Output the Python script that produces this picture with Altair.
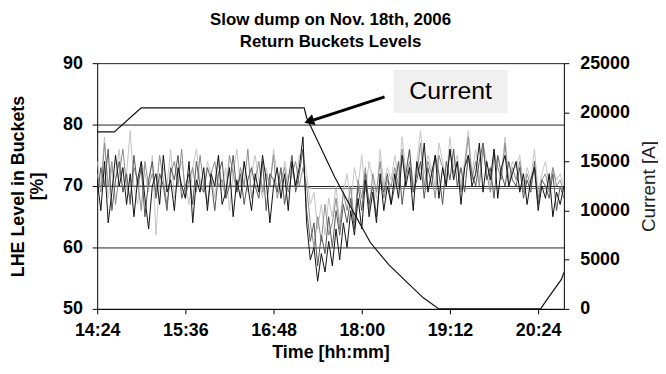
import altair as alt
import pandas as pd

# minutes after 14:24, sampled every 3 min
step_min = 3

lhe_black = [71, 66, 74, 64, 69, 75, 70, 73, 67, 72, 65, 71, 74, 68, 63, 70, 72, 67, 75, 69, 71, 66, 73, 70, 68, 74, 64, 71, 69, 73, 66, 72, 70, 75, 67, 69, 73, 65, 71, 68, 74, 70, 66, 72, 69, 75, 71, 64, 70, 73, 68, 72, 66, 74, 70, 73,
             78, 64, 58,
             60, 54.5, 59, 56, 61, 57, 63, 58, 64,
             60, 66, 62, 68, 63, 71, 65, 69, 64, 72, 66, 70, 67,
             72, 68, 75, 70, 73, 66, 74, 71, 77, 69, 72, 75, 68, 73, 70, 76, 71, 74, 67, 73, 75, 70, 72, 77, 69, 74, 71, 76, 68, 73, 75, 70, 72,
             74, 69, 72, 67, 71, 73, 66, 70, 68, 72, 65, 69, 67, 70]
lhe_dark = [68, 73, 70, 76, 66, 71, 74, 69, 72, 67, 75, 70, 73, 65, 71, 74, 68, 72, 70, 66, 73, 71, 75, 68, 70, 72, 67, 74, 70, 69, 73, 71, 66, 72, 74, 68, 70, 75, 69, 72, 67, 71, 73, 70, 68, 74, 66, 72, 71, 69, 73, 67, 71, 75, 69, 72,
            76, 66, 61,
            64, 57, 62, 59, 65, 60, 66, 62, 67,
            64, 68, 63, 70, 66, 72, 67, 70, 65, 71, 69, 72, 67,
            70, 74, 67, 72, 76, 69, 71, 74, 68, 73, 70, 75, 72, 67, 74, 71, 76, 70, 73, 69, 75, 72, 70, 74, 77, 71, 73, 68, 75, 72, 70, 74, 71,
            70, 73, 68, 71, 69, 74, 67, 71, 70, 68, 72, 66, 70, 68]
lhe_mid = [72, 69, 77, 70, 74, 67, 72, 76, 70, 68, 73, 71, 66, 74, 70, 72, 69, 75, 71, 67, 72, 74, 70, 76, 68, 71, 73, 69, 75, 70, 67, 72, 74, 70, 71, 68, 75, 72, 69, 73, 70, 76, 68, 71, 74, 69, 72, 70, 75, 68, 71, 73, 69, 72, 74, 70,
           73, 70, 64,
           60, 65, 61, 67, 62, 64, 68, 63, 69,
           66, 70, 64, 71, 68, 73, 66, 72, 69, 74, 68, 71, 70,
           73, 70, 76, 71, 74, 69, 72, 77, 70, 74, 72, 68, 75, 73, 70, 76, 72, 74, 69, 73, 78, 71, 74, 70, 76, 72, 69, 75, 73, 71, 77, 70, 73,
           71, 74, 69, 72, 70, 73, 68, 71, 72, 69, 73, 70, 71, 69]
lhe_light = [74, 70, 78, 68, 73, 71, 76, 69, 72, 79, 70, 67, 74, 72, 69, 75, 62, 71, 73, 70, 76, 68, 72, 74, 70, 67, 73, 76, 71, 69, 74, 72, 68, 75, 70, 73, 66, 72, 76, 70, 74, 69, 72, 75, 71, 68, 73, 70, 76, 72, 69, 74, 71, 73, 70, 75,
             75, 72, 67,
             69, 63, 67, 62, 68, 65, 70, 64, 69,
             72, 67, 73, 70, 75, 69, 74, 71, 68, 76, 70, 73, 71,
             75, 71, 78, 72, 76, 70, 74, 79, 72, 75, 73, 70, 77, 74, 71, 78, 73, 75, 70, 74, 79, 72, 76, 71, 77, 74, 70, 76, 73, 72, 78, 71, 74,
             73, 75, 70, 73, 71, 76, 69, 72, 74, 70, 73, 71, 72, 70]

ref_t = [0, 169, 175, 381]
ref_v = [70.0, 70.0, 69.6, 69.6]

cur_t = [0, 14, 31, 36, 169, 171, 194, 209, 223, 238, 253, 266, 279, 352, 362, 368, 379, 381]
cur_a = [18000, 18000, 19900, 20450, 20450, 19450, 13400, 9900, 6750, 4500, 2700, 1150, 0, 0, 0, 1100, 3000, 3700]

tick_minutes = [0, 72, 144, 216, 288, 360]
left_ticks = [50, 60, 70, 80, 90]
right_ticks = [0, 5000, 10000, 15000, 20000, 25000]

FONT = "Liberation Sans"
xscale = alt.Scale(domain=[0, 381], nice=False, zero=False)
yscale = alt.Scale(domain=[50, 90], nice=False, zero=False)

label_expr = ("floor((864+datum.value)/60) + ':' + "
              "(((864+datum.value)%60)<10?'0':'') + ((864+datum.value)%60)")

xaxis = alt.Axis(values=tick_minutes, labelExpr=label_expr, title="Time [hh:mm]",
                 grid=False, labelFontSize=18, labelFontWeight="bold", titleFontSize=18,
                 titleFontWeight="bold", tickSize=5, labelPadding=8, titlePadding=4,
                 domainColor="black", tickColor="black", labelColor="black", titleColor="black",
                 labelFlush=False)
yaxis_left = alt.Axis(values=left_ticks, title=["LHE Level in Buckets", "[%]"], grid=True,
                      gridColor="#222222", gridWidth=1, labelFontSize=18, labelFontWeight="bold",
                      titleFontSize=18, titleFontWeight="bold", tickSize=5, labelPadding=10,
                      titleAngle=270, titleX=-88, titleY=124, titleAlign="center",
                      titleBaseline="top", titleLineHeight=19,
                      domainColor="black", tickColor="black", labelColor="black", titleColor="black")
yaxis_right = alt.Axis(values=right_ticks, format="d", title="Current [A]", grid=False, orient="right",
                       labelFontSize=18, labelFontWeight="bold", titleFontSize=19,
                       titleFontWeight="normal", tickSize=5, labelPadding=11,
                       titleAngle=270, titleX=85, titleY=124, titleAlign="center",
                       titleBaseline="middle",
                       domainColor="black", tickColor="black", labelColor="black", titleColor="#222222")


def series_layer(vals, color, width=1.0):
    df = pd.DataFrame({"t": [i * step_min for i in range(len(vals))], "v": vals})
    return alt.Chart(df).mark_line(color=color, strokeWidth=width, clip=True).encode(
        x=alt.X("t:Q", scale=xscale, axis=xaxis),
        y=alt.Y("v:Q", scale=yscale, axis=yaxis_left),
    )


ref_df = pd.DataFrame({"t": ref_t, "v": ref_v})
ref_layer = alt.Chart(ref_df).mark_line(color="#777777", strokeWidth=1).encode(
    x=alt.X("t:Q", scale=xscale, axis=xaxis), y=alt.Y("v:Q", scale=yscale, axis=yaxis_left))

# annotation
box_df = pd.DataFrame({"x": [242], "x2": [335], "y": [88.9], "y2": [81.9]})
box = alt.Chart(box_df).mark_rect(color="#f0f0f0").encode(
    x=alt.X("x:Q", scale=xscale), x2="x2:Q", y=alt.Y("y:Q", scale=yscale), y2="y2:Q")
txt_df = pd.DataFrame({"x": [288.5], "y": [85.4], "label": ["Current"]})
txt = alt.Chart(txt_df).mark_text(fontSize=25, font=FONT, color="black", align="center",
                                  baseline="middle").encode(
    x=alt.X("x:Q", scale=xscale), y=alt.Y("y:Q", scale=yscale), text="label:N")
arrow_df = pd.DataFrame({"x": [234.6], "y": [84.5], "x2": [174.5], "y2": [80.6]})
arrow_line = alt.Chart(arrow_df).mark_rule(color="black", strokeWidth=3).encode(
    x=alt.X("x:Q", scale=xscale), y=alt.Y("y:Q", scale=yscale), x2="x2:Q", y2="y2:Q")
head_df = pd.DataFrame({"x": [173.0], "y": [80.55]})
arrow_head = alt.Chart(head_df).mark_point(shape="triangle-up", filled=True, color="black",
                                           size=130, angle=252, opacity=1).encode(
    x=alt.X("x:Q", scale=xscale), y=alt.Y("y:Q", scale=yscale))

left = alt.layer(
    series_layer(lhe_light, "#c4c4c4"),
    series_layer(lhe_mid, "#8c8c8c"),
    series_layer(lhe_dark, "#555555"),
    ref_layer,
    series_layer(lhe_black, "#111111"),
    box, txt, arrow_line, arrow_head,
)

cur_df = pd.DataFrame({"t": cur_t, "a": cur_a})
right = alt.Chart(cur_df).mark_line(color="#111111", strokeWidth=1.2).encode(
    x=alt.X("t:Q", scale=xscale, axis=xaxis),
    y=alt.Y("a:Q", scale=alt.Scale(domain=[0, 25000], nice=False), axis=yaxis_right),
)

chart = alt.layer(left, right).resolve_scale(y="independent").properties(
    width=471, height=248,
    title=alt.TitleParams(["Slow dump on Nov. 18th, 2006", "Return Buckets Levels"],
                          fontSize=17, fontWeight="bold", font=FONT, anchor="middle",
                          lineHeight=23, offset=3, color="black"),
    autosize=alt.AutoSizeParams(type="none"),
    padding={"left": 90, "top": 54, "right": 95, "bottom": 57},
).configure(font=FONT).configure_view(stroke=None)

chart.save("out.html", embed_options={"renderer": "svg", "actions": False})
